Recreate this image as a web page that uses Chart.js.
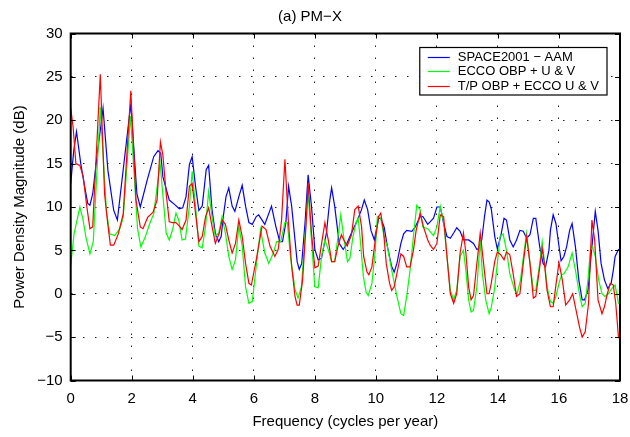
<!DOCTYPE html>
<html>
<head>
<meta charset="utf-8">
<script src="https://cdn.jsdelivr.net/npm/chart.js@4.4.1/dist/chart.umd.min.js"></script>
<style>
  html, body { margin: 0; padding: 0; background: #fff; }
  #c { display: block; }
</style>
</head>
<body>
<canvas id="c" width="630" height="437"></canvas>
<script>
// ---------- data ----------
const seriesLabels = ['SPACE2001 \u2212 AAM', 'ECCO OBP + U & V', 'T/P OBP + ECCO U & V'];
const xTicks = [0, 2, 4, 6, 8, 10, 12, 14, 16, 18];
const yTicks = [-10, -5, 0, 5, 10, 15, 20, 25, 30];

const freqBlue = [0, 0.1, 0.19, 0.33, 0.45, 0.56, 0.63, 0.72, 0.85, 1.06, 1.22, 1.41, 1.53, 1.97, 2.17, 2.28, 2.5, 2.72, 2.86, 2.95, 3.02, 3.23, 3.4, 3.56, 3.67, 3.78, 3.89, 3.98, 4.09, 4.2, 4.31, 4.44, 4.52, 4.63, 4.74, 4.85, 4.93, 5.0, 5.09, 5.18, 5.29, 5.38, 5.51, 5.62, 5.73, 5.84, 5.95, 6.08, 6.16, 6.36, 6.58, 6.72, 6.85, 6.94, 7.05, 7.14, 7.24, 7.35, 7.42, 7.49, 7.57, 7.68, 7.78, 7.89, 8.0, 8.11, 8.22, 8.38, 8.49, 8.55, 8.65, 8.8, 8.93, 9.04, 9.2, 9.36, 9.53, 9.62, 9.73, 9.84, 9.95, 10.09, 10.16, 10.27, 10.38, 10.52, 10.6, 10.69, 10.82, 10.91, 11.01, 11.18, 11.29, 11.45, 11.54, 11.7, 11.89, 12.0, 12.11, 12.22, 12.33, 12.44, 12.55, 12.65, 12.76, 12.87, 13.04, 13.2, 13.31, 13.36, 13.47, 13.56, 13.64, 13.71, 13.78, 13.9, 13.98, 14.09, 14.2, 14.28, 14.39, 14.5, 14.61, 14.72, 14.83, 14.94, 15.05, 15.16, 15.24, 15.37, 15.48, 15.56, 15.67, 15.72, 15.81, 15.9, 16.0, 16.07, 16.16, 16.25, 16.35, 16.43, 16.54, 16.65, 16.76, 16.84, 16.95, 17.05, 17.19, 17.28, 17.38, 17.49, 17.6, 17.71, 17.78, 17.84, 17.95, 18];
const magBlue = [12.7, 16.5, 18.7, 15, 12.5, 10.4, 10.2, 11.5, 15.5, 21.4, 14.2, 9.6, 8.5, 21.9, 11.5, 10, 13, 15.8, 16.5, 16.2, 13.5, 10.8, 10.3, 9.8, 9.9, 11.2, 14.9, 15.8, 12.4, 9.6, 10.1, 14.3, 14.8, 9.7, 7, 6, 6.6, 8.9, 11.2, 12.2, 10.1, 9.5, 11.2, 12.5, 10.1, 8.2, 8, 8.9, 9.1, 8, 10.1, 7.8, 6, 6, 8.2, 12.4, 10.1, 6.2, 3.7, 2.8, 3.5, 8.2, 13.7, 10.1, 5.1, 3.9, 4.1, 7, 10.8, 12.2, 10.1, 5.8, 5.1, 5.7, 7, 8.2, 9.7, 10.8, 9.7, 7.3, 6.2, 8.7, 8.7, 7.7, 5.4, 3.1, 2.5, 3.5, 5.8, 6.9, 7.3, 7.2, 7.7, 8.9, 8.9, 8.0, 8.7, 10, 10, 8.1, 6.6, 6.4, 7, 7.6, 7.2, 6.2, 6.2, 5.8, 5.1, 5.2, 6.2, 8.9, 10.8, 10.6, 9.8, 6.5, 5.2, 6.6, 8.7, 8.5, 6.2, 5.4, 6.2, 7.3, 7.2, 6.4, 6.8, 8.7, 8.7, 5.4, 3.5, 3.1, 5, 7.3, 9.1, 8.1, 5.5, 3.8, 4.3, 5.4, 7.3, 8.1, 5.4, 1.6, -0.7, -0.7, 0.4, 4.3, 9.5, 7.3, 3.5, 1.6, 0.6, 1.2, 2.7, 4.3, 5.1, 5];

const freqGreen = [0, 0.11, 0.3, 0.39, 0.5, 0.63, 0.74, 0.97, 1.17, 1.28, 1.44, 1.61, 1.72, 1.96, 2.19, 2.3, 2.44, 2.59, 2.72, 2.93, 3.05, 3.13, 3.23, 3.34, 3.45, 3.54, 3.65, 3.76, 3.89, 3.98, 4.09, 4.2, 4.31, 4.42, 4.52, 4.63, 4.74, 4.85, 4.96, 5.07, 5.18, 5.29, 5.4, 5.51, 5.62, 5.73, 5.84, 5.95, 6.08, 6.22, 6.36, 6.49, 6.64, 6.75, 6.88, 7.02, 7.1, 7.2, 7.35, 7.45, 7.56, 7.67, 7.78, 7.89, 8.0, 8.11, 8.22, 8.33, 8.44, 8.55, 8.65, 8.76, 8.85, 8.96, 9.07, 9.15, 9.25, 9.36, 9.42, 9.49, 9.59, 9.68, 9.75, 9.87, 9.98, 10.05, 10.16, 10.27, 10.38, 10.52, 10.69, 10.82, 10.91, 11.01, 11.12, 11.23, 11.34, 11.45, 11.54, 11.7, 11.89, 12.0, 12.11, 12.22, 12.33, 12.44, 12.55, 12.65, 12.76, 12.87, 12.95, 13.04, 13.12, 13.2, 13.31, 13.42, 13.49, 13.6, 13.71, 13.78, 13.89, 13.98, 14.07, 14.17, 14.28, 14.39, 14.55, 14.63, 14.74, 14.85, 14.94, 15.05, 15.16, 15.24, 15.37, 15.45, 15.53, 15.61, 15.72, 15.81, 15.9, 16.0, 16.09, 16.16, 16.3, 16.43, 16.54, 16.67, 16.76, 16.86, 16.95, 17.03, 17.1, 17.19, 17.3, 17.41, 17.51, 17.62, 17.73, 17.84, 17.95, 18];
const magGreen = [3.3, 6.9, 10, 8.8, 6.5, 4.6, 6, 21.5, 9.6, 6.9, 6.7, 7.5, 8.8, 20.5, 7.5, 5.4, 6.5, 8.1, 9.2, 15, 10.2, 7, 6.2, 7.4, 9.3, 8.5, 6.2, 6.3, 10.1, 14.1, 10.1, 5.5, 5.3, 7.8, 11.8, 8.9, 6.6, 7, 8.9, 7, 4.3, 2.8, 3.9, 7.8, 5.5, 0.8, -1.1, -0.9, 3.2, 7.4, 4.7, 3.5, 4.7, 6, 6, 8.2, 8.2, 4.3, 0.5, -0.5, 0.8, 6.2, 11.6, 6.2, 0.8, 0.7, 4.3, 6.2, 5.1, 3.7, 3.7, 6.6, 9.1, 6.2, 3.7, 4.1, 6.6, 8.3, 8.7, 6.2, 2, 0.2, -0.2, 1.2, 5, 8.9, 8.7, 6.6, 5.4, 2.7, -0.3, -2.3, -2.5, -0.3, 2.7, 6.6, 10.2, 9.7, 7.7, 7.5, 6.7, 7.7, 10.1, 8.3, 4.3, 0.4, -0.7, 0.4, 4.3, 5, 2.7, -0.7, -2.1, -1.9, 0.8, 6.2, 2.3, -0.7, -2.3, -1.6, 0.6, 3.5, 6.6, 6.9, 5, 2.3, 0.4, 0, 1.6, 4.7, 7, 3.5, 0.4, 0.4, 3.5, 6, 3.5, 0.8, -0.9, -1.1, -0.3, 1.2, 2.2, 2.3, 3.1, 4.7, 2.7, 0, -1.5, -1.1, 1.6, 5, 5.4, 4.3, 1.6, 0, -0.3, 0, 0.6, 1, -1.1, -1.1];

const freqRed = [0, 0.08, 0.17, 0.3, 0.41, 0.53, 0.63, 0.72, 0.97, 1.11, 1.2, 1.3, 1.41, 1.56, 1.72, 1.97, 2.14, 2.28, 2.37, 2.52, 2.7, 2.83, 2.94, 3.02, 3.13, 3.23, 3.34, 3.45, 3.56, 3.65, 3.78, 3.89, 3.98, 4.09, 4.2, 4.31, 4.42, 4.52, 4.63, 4.74, 4.87, 4.96, 5.07, 5.18, 5.29, 5.4, 5.51, 5.62, 5.73, 5.84, 5.92, 6.08, 6.27, 6.4, 6.53, 6.69, 6.8, 6.91, 7.02, 7.13, 7.24, 7.35, 7.42, 7.49, 7.6, 7.71, 7.78, 7.89, 8.0, 8.11, 8.24, 8.33, 8.44, 8.55, 8.65, 8.76, 8.87, 8.95, 9.06, 9.2, 9.31, 9.42, 9.53, 9.6, 9.71, 9.77, 9.87, 9.98, 10.09, 10.16, 10.25, 10.34, 10.45, 10.52, 10.6, 10.71, 10.82, 10.91, 11.01, 11.12, 11.23, 11.32, 11.45, 11.56, 11.7, 11.78, 11.89, 12.0, 12.11, 12.22, 12.33, 12.44, 12.55, 12.65, 12.76, 12.87, 12.95, 13.04, 13.12, 13.2, 13.31, 13.42, 13.53, 13.64, 13.71, 13.78, 13.9, 13.98, 14.09, 14.2, 14.28, 14.39, 14.5, 14.61, 14.72, 14.83, 14.94, 15.05, 15.16, 15.24, 15.34, 15.45, 15.53, 15.61, 15.72, 15.81, 15.9, 16.0, 16.11, 16.22, 16.35, 16.45, 16.56, 16.67, 16.76, 16.86, 16.97, 17.03, 17.08, 17.17, 17.28, 17.41, 17.49, 17.57, 17.68, 17.78, 17.86, 17.95, 18];
const magRed = [21.4, 19.2, 15, 14.8, 13.5, 10, 7.5, 7.7, 25.3, 11.5, 8.5, 5.6, 5.6, 6.9, 9.2, 23.4, 10.8, 7.7, 7.5, 8.8, 9.4, 10.8, 17.5, 16, 11.5, 8.3, 8.2, 8.2, 7.8, 7.4, 8.5, 12.4, 12.7, 9.3, 6, 6.6, 8.9, 9.9, 7.8, 5.8, 7, 8.5, 8, 6.2, 4.7, 5.8, 8.5, 6.6, 3.5, 1.2, 1.0, 3.9, 7.8, 7.4, 5.5, 4.3, 5.1, 8.5, 15.5, 8.5, 3.2, -0.3, -1.3, -1.3, 1.6, 7.8, 12.8, 7, 3, 3.2, 6.2, 8.2, 6.2, 3.7, 3.7, 5.5, 6.8, 6.2, 5.5, 6.8, 9.7, 10.1, 7.8, 4.3, 2.5, 2.2, 3.1, 6.2, 8.9, 9.3, 7.3, 3.5, 1.2, 0.4, 0.8, 2.7, 4.6, 4.3, 3.1, 3.1, 5, 7.3, 9.3, 7.7, 6.2, 5.6, 5.1, 5.8, 9.1, 8.9, 4.3, 0.0, -1.1, 0, 4.7, 7, 4.7, 0.8, -0.7, -0.2, 3.5, 7, 3.5, 0, 0, 1.2, 3.8, 4.8, 4.5, 3.9, 4.8, 4.5, 2.3, -0.3, 0, 3.5, 6.6, 3.5, -0.5, -0.3, 2.3, 5.2, 3.3, 0.4, -1.5, -1.5, 1.0, 3.6, 1.6, -1.3, -0.7, 0, -1.9, -3.8, -5, -4.4, -1.1, 4.3, 8.5, 6.2, -0.7, -2.3, -1.5, -0.2, 1.2, 1, -1.1, -5, -5.3];

// ---------- chart ----------
const FONT = '"Liberation Sans", Arial, Helvetica, sans-serif';
const toPts = (xs, ys) => xs.map((x, i) => ({ x: x, y: ys[i] }));
const minus = v => String(v).replace('-', '\u2212');

const framePlugin = {
  id: 'frame',
  afterDatasetsDraw(chart) {
    const { ctx, chartArea: a, scales } = chart;
    ctx.save();
    ctx.setLineDash([]);
    ctx.strokeStyle = '#000';
    ctx.lineWidth = 1;
    const tl = 5;
    ctx.beginPath();
    scales.x.ticks.forEach(t => {
      const px = Math.round(scales.x.getPixelForValue(t.value)) + 0.5;
      ctx.moveTo(px, a.bottom); ctx.lineTo(px, a.bottom - tl);
      ctx.moveTo(px, a.top); ctx.lineTo(px, a.top + tl);
    });
    scales.y.ticks.forEach(t => {
      const py = Math.round(scales.y.getPixelForValue(t.value)) + 0.5;
      ctx.moveTo(a.left, py); ctx.lineTo(a.left + tl, py);
      ctx.moveTo(a.right, py); ctx.lineTo(a.right - tl, py);
    });
    ctx.stroke();
    ctx.lineWidth = 2;
    ctx.strokeRect(a.left, a.top, a.right - a.left, a.bottom - a.top);
    ctx.restore();
  }
};

const legendBoxPlugin = {
  id: 'legendBox',
  afterDraw(chart) {
    const { ctx, chartArea: a } = chart;
    const ds = chart.data.datasets;
    ctx.save();
    ctx.font = '13px ' + FONT;
    let maxW = 0;
    ds.forEach(d => { maxW = Math.max(maxW, ctx.measureText(d.label).width); });
    const right = a.right - 13;
    const top = a.top + 14;
    const w = maxW + 38 + 8;
    const rowH = 14.5;
    const h = rowH * ds.length + 4;
    const left = right - w;
    ctx.fillStyle = '#fff';
    ctx.fillRect(left, top, w, h);
    ctx.setLineDash([]);
    ctx.strokeStyle = '#000';
    ctx.lineWidth = 1.2;
    ctx.strokeRect(left, top, w, h);
    ds.forEach((d, i) => {
      const cy = top + 9 + i * rowH;
      ctx.strokeStyle = d.borderColor;
      ctx.lineWidth = 1.2;
      ctx.beginPath();
      ctx.moveTo(left + 8, Math.round(cy) + 0.5);
      ctx.lineTo(left + 30, Math.round(cy) + 0.5);
      ctx.stroke();
      ctx.fillStyle = '#000';
      ctx.textBaseline = 'middle';
      ctx.textAlign = 'left';
      ctx.fillText(d.label, left + 38, cy + 0.5);
    });
    ctx.restore();
  }
};

const gridCommon = { color: '#222', lineWidth: 1, drawTicks: false, borderDash: [1.5, 10.5] };

new Chart(document.getElementById('c'), {
  type: 'line',
  data: {
    datasets: [
      { label: seriesLabels[0], data: toPts(freqBlue, magBlue), borderColor: '#0000ff', order: 3 },
      { label: seriesLabels[1], data: toPts(freqGreen, magGreen), borderColor: '#00ff00', order: 2 },
      { label: seriesLabels[2], data: toPts(freqRed, magRed), borderColor: '#ff0000', order: 1 }
    ].map(d => Object.assign(d, { borderWidth: 1.2, pointRadius: 0, tension: 0, fill: false }))
  },
  options: {
    responsive: false,
    animation: false,
    events: [],
    parsing: false,
    layout: { padding: { left: 0, right: 10, top: 0, bottom: 0 } },
    plugins: {
      legend: { display: false },
      tooltip: { enabled: false },
      title: {
        display: true, text: '(a) PM\u2212X', color: '#000',
        font: { family: FONT, size: 15, weight: 'normal' },
        padding: { top: 7.7, bottom: 7.8 }
      }
    },
    scales: {
      x: {
        type: 'linear', min: 0, max: 18,
        afterBuildTicks: s => { s.ticks = xTicks.map(v => ({ value: v })); },
        afterFit: s => { s.height = 56.5; s.paddingLeft = 0; s.paddingRight = 0; },
        ticks: { color: '#000', padding: 9, maxRotation: 0, autoSkip: false, font: { family: FONT, size: 15 }, callback: minus },
        grid: gridCommon,
        border: { display: false, dash: [1.5, 10.5] },
        title: { display: true, text: 'Frequency (cycles per year)', color: '#000', font: { family: FONT, size: 15 }, padding: { top: 0, bottom: 6 } }
      },
      y: {
        type: 'linear', min: -10, max: 30,
        afterBuildTicks: s => { s.ticks = yTicks.map(v => ({ value: v })); },
        afterFit: s => { s.width = 70.7; s.paddingTop = 0; s.paddingBottom = 0; },
        ticks: { color: '#000', padding: 8, font: { family: FONT, size: 15 }, callback: minus },
        grid: gridCommon,
        border: { display: false, dash: [1.5, 10.5] },
        title: { display: true, text: 'Power Density Magnitude (dB)', color: '#000', font: { family: FONT, size: 15 }, padding: { top: 10.7, bottom: 0 } }
      }
    }
  },
  plugins: [framePlugin, legendBoxPlugin]
});
</script>
</body>
</html>
